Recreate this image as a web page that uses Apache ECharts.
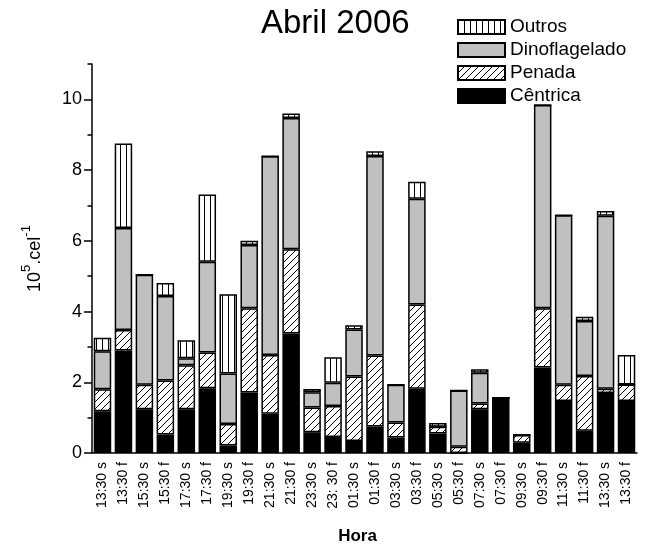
<!DOCTYPE html>
<html>
<head>
<meta charset="utf-8">
<script src="https://cdn.jsdelivr.net/npm/echarts@6/dist/echarts.min.js"></script>
<style>
  html, body { margin: 0; padding: 0; background: #fff; }
  #chart { width: 650px; height: 545px; }
</style>
</head>
<body>
<div id="chart"></div>
<script>
const hours = ['13:30 s', '13:30 f', '15:30 s', '15:30 f', '17:30 s', '17:30 f', '19:30 s', '19:30 f',
  '21:30 s', '21:30 f', '23:30 s', '23: 30 f', '01:30 s', '01:30 f', '03:30 s', '03:30 f',
  '05:30 s', '05:30 f', '07:30 s', '07:30 f', '09:30 s', '09:30 f', '11:30 s', '11:30 f',
  '13:30 s', '13:30 f'];

// 10^5 cel/l, each group stacked from the bottom
const centrica = [1.18, 2.90, 1.24, 0.52, 1.24, 1.83, 0.21, 1.71, 1.11, 3.38, 0.59, 0.45, 0.34,
  0.75, 0.44, 1.82, 0.55, 0, 1.24, 1.56, 0.29, 2.42, 1.47, 0.63, 1.70, 1.47];
const penada = [0.62, 0.58, 0.69, 1.53, 1.24, 1.01, 0.61, 2.38, 1.66, 2.38, 0.70, 0.88, 1.82,
  2.01, 0.42, 2.38, 0.19, 0.18, 0.16, 0, 0.22, 1.67, 0.46, 1.55, 0.12, 0.47];
const dinoflagelado = [1.08, 2.88, 3.11, 2.39, 0.20, 2.57, 1.43, 1.79, 5.62, 3.71, 0.43, 0.66, 1.33,
  5.64, 1.07, 2.99, 0, 1.59, 0.87, 0, 0, 5.75, 4.79, 1.55, 4.89, 0];
const outros = [0.38, 2.39, 0, 0.37, 0.51, 1.90, 2.24, 0.12, 0, 0.13, 0.09, 0.72, 0.12,
  0.13, 0, 0.48, 0.11, 0, 0.10, 0, 0, 0, 0, 0.12, 0.13, 0.83];

const yLabels = [0, 2, 4, 6, 8, 10];
const yMinor = [1, 3, 5, 7, 9, 11];

const font = 'Liberation Sans, Arial, sans-serif';

// fill patterns
function vLines() {
  const c = document.createElement('canvas');
  c.width = 6; c.height = 6;
  const g = c.getContext('2d');
  g.fillStyle = '#fff';
  g.fillRect(0, 0, 6, 6);
  g.fillStyle = '#000';
  g.fillRect(0, 0, 1, 6);
  return c;
}
function hatch() {
  const s = 7;
  const c = document.createElement('canvas');
  c.width = s; c.height = s;
  const g = c.getContext('2d');
  g.fillStyle = '#fff';
  g.fillRect(0, 0, s, s);
  g.strokeStyle = '#000';
  g.lineWidth = 1;
  g.beginPath();
  g.moveTo(-1, s + 1); g.lineTo(s + 1, -1);
  g.moveTo(-1, 1); g.lineTo(1, -1);
  g.moveTo(s - 1, s + 1); g.lineTo(s + 1, s - 1);
  g.stroke();
  return c;
}

const chart = echarts.init(document.getElementById('chart'), null, { renderer: 'canvas' });

function barSeries(name, data, color) {
  return {
    name: name,
    type: 'bar',
    stack: 'total',
    barWidth: 17.5,
    data: data,
    itemStyle: { color: color, borderColor: '#000', borderWidth: 1.5 },
    emphasis: { disabled: true }
  };
}

const option = {
  backgroundColor: '#fff',
  animation: false,
  textStyle: { fontFamily: font },
  title: {
    text: 'Abril 2006',
    left: 261,
    top: 7,
    padding: 0,
    textStyle: { fontSize: 33, fontWeight: 'normal', color: '#000', fontFamily: font }
  },
  legend: {
    orient: 'vertical',
    left: 452,
    top: 12,
    itemWidth: 47,
    itemHeight: 14,
    itemGap: 3,
    selectedMode: false,
    icon: 'rect',
    data: ['Outros', 'Dinoflagelado', 'Penada', 'Cêntrica'],
    textStyle: { fontSize: 19, lineHeight: 20, color: '#000', fontFamily: font }
  },
  grid: { left: 92, right: 13, top: 64, bottom: 92, outerBoundsMode: 'none' },
  xAxis: [{
    type: 'category',
    data: hours,
    name: 'Hora',
    nameLocation: 'middle',
    nameGap: 75,
    nameTextStyle: { fontSize: 17, fontWeight: 'bold', color: '#000', fontFamily: font, padding: [0, 14, 0, 0] },
    axisLine: { lineStyle: { color: '#000', width: 1.5 } },
    axisTick: { length: 5, lineStyle: { color: '#000', width: 1.3 } },
    axisLabel: { rotate: 90, interval: 0, margin: 9, fontSize: 14, color: '#000', fontFamily: font }
  }, {
    type: 'category',
    data: hours,
    position: 'bottom',
    axisLine: { show: false },
    axisTick: { alignWithLabel: true, length: 5, lineStyle: { color: '#000', width: 1.3 } },
    axisLabel: { show: false }
  }],
  yAxis: [{
    type: 'value',
    min: 0,
    max: 11,
    name: '{a|10}{b|5}{a|.cel}{b|-1}',
    nameLocation: 'middle',
    nameGap: 48,
    nameTextStyle: {
      rich: {
        a: { fontSize: 18, lineHeight: 24, verticalAlign: 'bottom', color: '#000', fontFamily: font },
        b: { fontSize: 13, lineHeight: 13, verticalAlign: 'top', color: '#000', fontFamily: font }
      }
    },
    splitLine: { show: false },
    axisLine: { show: true, lineStyle: { color: '#000', width: 1.5 } },
    axisTick: { show: true, customValues: yLabels, length: 8, lineStyle: { color: '#000', width: 1.5 } },
    axisLabel: { customValues: yLabels, margin: 10, fontSize: 18, color: '#000', fontFamily: font }
  }, {
    type: 'value',
    min: 0,
    max: 11,
    position: 'left',
    splitLine: { show: false },
    axisLine: { show: false },
    axisTick: { show: true, customValues: yMinor, length: 4.5, lineStyle: { color: '#000', width: 1.5 } },
    axisLabel: { show: false }
  }],
  series: [
    barSeries('Cêntrica', centrica, '#000'),
    barSeries('Penada', penada, { image: hatch(), repeat: 'repeat' }),
    barSeries('Dinoflagelado', dinoflagelado, '#c0c0c0'),
    barSeries('Outros', outros, { image: vLines(), repeat: 'repeat' })
  ]
};

chart.setOption(option);
</script>
</body>
</html>
